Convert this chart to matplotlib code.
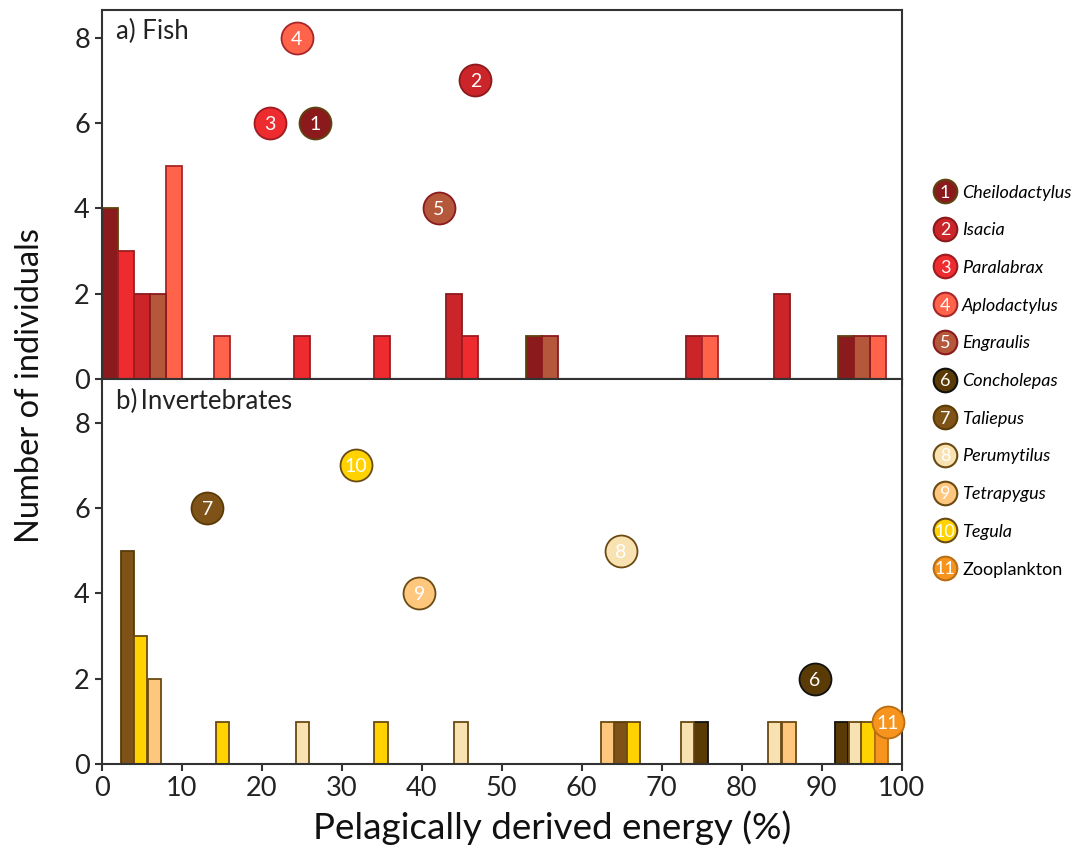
import numpy as np
import matplotlib.pyplot as plt

plt.rcParams['font.family'] = ['Lato', 'DejaVu Sans']

fish = ['Cheilodactylus', 'Isacia', 'Paralabrax', 'Aplodactylus', 'Engraulis']
inverts = ['Concholepas', 'Taliepus', 'Perumytilus', 'Tetrapygus', 'Tegula', 'Zooplankton']

fill = {'Cheilodactylus': '#8b1a1c', 'Isacia': '#cc2529', 'Paralabrax': '#ee2b2f',
        'Aplodactylus': '#ff6349', 'Engraulis': '#b5573b', 'Concholepas': '#5a3b06',
        'Taliepus': '#7f5217', 'Perumytilus': '#f8e2b2', 'Tetrapygus': '#ffc67d',
        'Tegula': '#ffd200', 'Zooplankton': '#f7941e'}
edge = {'Cheilodactylus': '#5e4210', 'Isacia': '#8b1a1c', 'Paralabrax': '#9e1c20',
        'Aplodactylus': '#a8262a', 'Engraulis': '#8b1a1c', 'Concholepas': '#111111',
        'Taliepus': '#5a3b06', 'Perumytilus': '#6b4a12', 'Tetrapygus': '#6b4a12',
        'Tegula': '#6b4a12', 'Zooplankton': '#b86e14'}

# histogram bars: bin position (% pelagic energy) and number of individuals
bar_x = {'Cheilodactylus': [1, 54, 93], 'Isacia': [5, 44, 74, 85],
         'Paralabrax': [3, 25, 35, 46], 'Aplodactylus': [9, 15, 76, 97],
         'Engraulis': [7, 56, 95],
         'Concholepas': [74.9, 92.5], 'Taliepus': [3.2, 64.9],
         'Perumytilus': [25.1, 44.9, 73.2, 84.1, 94.2], 'Tetrapygus': [6.6, 63.2, 85.9],
         'Tegula': [4.85, 15.1, 34.9, 66.5, 95.8], 'Zooplankton': [97.5]}
bar_n = {'Cheilodactylus': [4, 1, 1], 'Isacia': [2, 2, 1, 2],
         'Paralabrax': [3, 1, 1, 1], 'Aplodactylus': [5, 1, 1, 1],
         'Engraulis': [2, 1, 1],
         'Concholepas': [1, 1], 'Taliepus': [5, 1],
         'Perumytilus': [1, 1, 1, 1, 1], 'Tetrapygus': [2, 1, 1],
         'Tegula': [3, 1, 1, 1, 1], 'Zooplankton': [1]}

# mean pelagic energy and sample size per taxon
mean_x = {'Cheilodactylus': 26.7, 'Isacia': 46.7, 'Paralabrax': 21.0,
          'Aplodactylus': 24.4, 'Engraulis': 42.1, 'Concholepas': 89.1,
          'Taliepus': 13.2, 'Perumytilus': 64.9, 'Tetrapygus': 39.7,
          'Tegula': 31.8, 'Zooplankton': 98.3}
n_ind = {'Cheilodactylus': 6, 'Isacia': 7, 'Paralabrax': 6, 'Aplodactylus': 8,
         'Engraulis': 4, 'Concholepas': 2, 'Taliepus': 6, 'Perumytilus': 5,
         'Tetrapygus': 4, 'Tegula': 7, 'Zooplankton': 1}

fig = plt.figure(figsize=(10.75, 8.46), dpi=100)
left, right = 0.0946, 0.8388
ax1 = fig.add_axes([left, 0.5520, right - left, 0.4362])
ax2 = fig.add_axes([left, 0.0966, right - left, 0.4554])

num = {s: i + 1 for i, s in enumerate(fish + inverts)}

for ax, group, width, ytop, title in [(ax1, fish, 2.0, 8.65, 'a) Fish'),
                                      (ax2, inverts, 10 / 6, 9.02, 'b)\u2009Invertebrates')]:
    for s in group:
        ax.bar(bar_x[s], bar_n[s], width=width, color=fill[s], edgecolor=edge[s],
               linewidth=1.3, zorder=2)
    for s in group:
        ax.plot(mean_x[s], n_ind[s], 'o', ms=23, mfc=fill[s], mec=edge[s], mew=1.3,
                zorder=4, clip_on=False)
        ax.text(mean_x[s], n_ind[s], str(num[s]), color='white', fontsize=14,
                ha='center', va='center_baseline', zorder=5)
    ax.set_xlim(0, 100)
    ax.set_ylim(0, ytop)
    ax.set_yticks([0, 2, 4, 6, 8])
    ax.set_xticks(np.arange(0, 101, 10))
    ax.tick_params(direction='out', length=5, width=1.5, labelsize=19.5,
                   color='#333333', labelcolor='#222222')
    for sp in ax.spines.values():
        sp.set_linewidth(1.5)
        sp.set_color('#333333')
    ax.text(0.018, 0.975, title, transform=ax.transAxes, fontsize=18.5, va='top', ha='left',
            color='#222222')

ax1.tick_params(labelbottom=False)
ax1.spines['bottom'].set_zorder(6)
fig.text(0.514, 0.008, 'Pelagically derived energy (%)', fontsize=26.5,
         ha='center', va='baseline', color='#111111')
fig.text(0.028, 0.544, 'Number of individuals', rotation=90, fontsize=23.5,
         ha='center', va='center', color='#111111')

# legend at right
ytop_px, step = 191, 37.7
for i, s in enumerate(fish + inverts):
    yy = 1 - (ytop_px + i * step) / 846
    fig.lines.append(plt.Line2D([945 / 1075], [yy], marker='o', ms=17, mfc=fill[s],
                                mec=edge[s], mew=1.5, transform=fig.transFigure))
    fig.text(945 / 1075, yy, str(num[s]), color='white', fontsize=13,
             ha='center', va='center_baseline')
    fig.text(962 / 1075, yy, s, fontsize=13, va='center_baseline', ha='left',
             style='normal' if s == 'Zooplankton' else 'italic')

fig.savefig('out.png', dpi=100)
